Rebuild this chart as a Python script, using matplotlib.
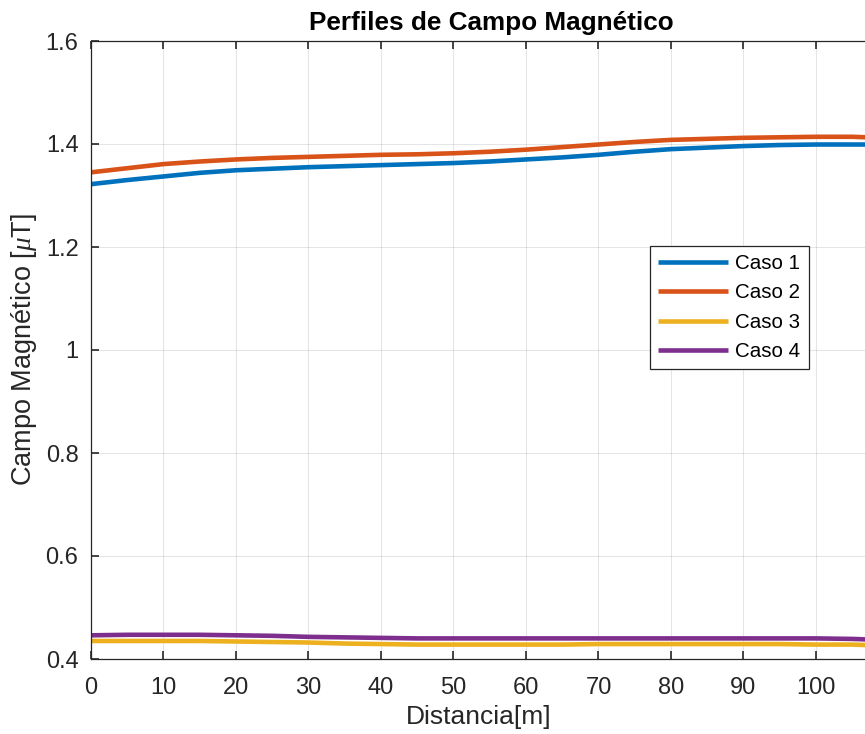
import matplotlib
matplotlib.use("Agg")
import matplotlib.pyplot as plt
from matplotlib.ticker import FuncFormatter

plt.rcParams["font.family"] = ["Liberation Sans", "DejaVu Sans"]
plt.rcParams["mathtext.fontset"] = "custom"
plt.rcParams["mathtext.rm"] = "Liberation Sans"
plt.rcParams["mathtext.it"] = "Liberation Serif:italic"

# Distance along the profile [m]
distancia = [0, 5, 10, 15, 20, 25, 30, 35, 40, 45, 50, 55, 60, 65, 70, 75,
             80, 85, 90, 95, 100, 105, 107]

# Magnetic field [uT] for each case
caso1 = [1.322, 1.330, 1.337, 1.344, 1.349, 1.352, 1.355, 1.357, 1.359, 1.361,
         1.363, 1.366, 1.370, 1.374, 1.379, 1.385, 1.390, 1.393, 1.396, 1.398,
         1.399, 1.399, 1.399]
caso2 = [1.345, 1.353, 1.361, 1.366, 1.370, 1.373, 1.375, 1.377, 1.379, 1.380,
         1.382, 1.385, 1.389, 1.394, 1.399, 1.404, 1.408, 1.410, 1.412, 1.413,
         1.414, 1.414, 1.413]
caso3 = [0.435, 0.435, 0.435, 0.435, 0.434, 0.433, 0.432, 0.430, 0.429, 0.428,
         0.428, 0.428, 0.428, 0.428, 0.429, 0.429, 0.429, 0.429, 0.429, 0.429,
         0.428, 0.428, 0.427]
caso4 = [0.446, 0.447, 0.447, 0.447, 0.446, 0.445, 0.443, 0.442, 0.441, 0.440,
         0.440, 0.440, 0.440, 0.440, 0.440, 0.440, 0.440, 0.440, 0.440, 0.440,
         0.440, 0.439, 0.438]

series = [caso1, caso2, caso3, caso4]
labels = ["Caso 1", "Caso 2", "Caso 3", "Caso 4"]
colors = ["#0072BD", "#D95319", "#EDB120", "#7E2F8E"]

xticks = [0, 10, 20, 30, 40, 50, 60, 70, 80, 90, 100]
yticks = [0.4, 0.6, 0.8, 1.0, 1.2, 1.4, 1.6]

axis_color = "#262626"

fig = plt.figure(figsize=(8.65, 7.34), dpi=100)
ax = fig.add_axes([91 / 865, 1 - 659 / 734, 1 - 91 / 865 + 0.002, (659 - 41) / 734])

for y, lab, c in zip(series, labels, colors):
    ax.plot(distancia, y, color=c, lw=3.3, label=lab, solid_capstyle="butt")

ax.set_xlim(0, 107)
ax.set_ylim(0.4, 1.6)
ax.set_xticks(xticks)
ax.set_yticks(yticks)
ax.yaxis.set_major_formatter(FuncFormatter(lambda v, p: f"{v:g}"))

ax.grid(True, color="#000000", alpha=0.10, lw=0.8)
ax.set_axisbelow(True)

for side in ["left", "bottom", "top", "right"]:
    ax.spines[side].set_color(axis_color)
    ax.spines[side].set_linewidth(0.9)

ax.tick_params(axis="both", direction="in", length=6, width=1.2, color=axis_color,
               labelcolor=axis_color, labelsize=17, top=True, right=False)
ax.tick_params(axis="x", pad=13)
ax.tick_params(axis="y", pad=9)

ax.set_xlabel("Distancia[m]", fontsize=19, color=axis_color, labelpad=4)
ax.set_ylabel(r"Campo Magnético [$\mu$T]", fontsize=19.5, color=axis_color, labelpad=5)
ax.set_title("Perfiles de Campo Magnético", fontsize=18.8, fontweight="bold",
             color="#000000", pad=8, x=0.5155)

leg = ax.legend(loc="upper left", bbox_to_anchor=(650 / 865, 1 - 246 / 734),
                bbox_transform=fig.transFigure, fontsize=14.8, handlelength=3.4,
                handletextpad=0.35, labelspacing=0.5, borderpad=0.4,
                fancybox=False, framealpha=1, edgecolor=axis_color,
                borderaxespad=0)
leg.get_frame().set_linewidth(0.9)
for line in leg.get_lines():
    line.set_linewidth(3.3)
for t in leg.get_texts():
    t.set_color("#000000")

fig.savefig("out.png", dpi=100)
